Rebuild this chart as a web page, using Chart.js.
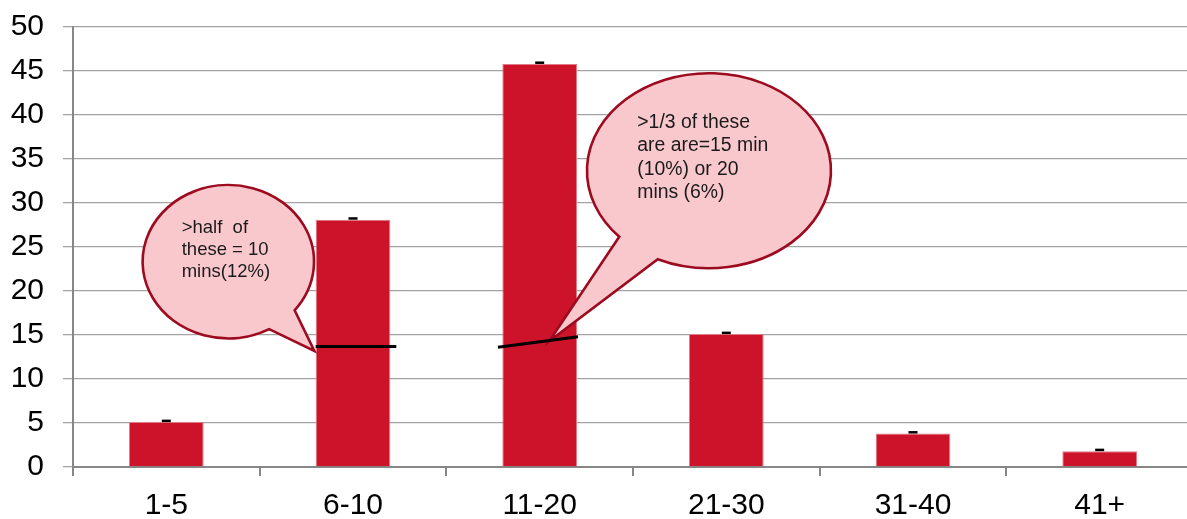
<!DOCTYPE html>
<html>
<head>
<meta charset="utf-8">
<title>Duration distribution</title>
<script src="https://cdn.jsdelivr.net/npm/chart.js@4.4.1/dist/chart.umd.min.js"></script>
<style>
  html, body { margin: 0; padding: 0; overflow: hidden; background: #ffffff; }
  canvas { display: block; }
</style>
</head>
<body>
<canvas id="chart" width="1195" height="519"></canvas>
<script>
// Duration bands (minutes) and share of responses in each band (%)
const categories = ['1-5', '6-10', '11-20', '21-30', '31-40', '41+'];
const percentages = [5.1, 28.1, 45.8, 15.1, 3.8, 1.8];

// Value axis
const yMin = 0;
const yMax = 50;
const yStep = 5;

// Split markers inside bars: where the single most common value ends
const splitCategory = ['6-10', '11-20'];
const splitFrom = [13.7, 13.6];
const splitTo = [13.7, 14.8];

// Callout texts
const calloutTen = ['>half  of', 'these = 10', 'mins(12%)'];
const calloutFifteenTwenty = ['>1/3 of these', 'are are=15 min', '(10%) or 20', 'mins (6%)'];

const FONT = "'Liberation Sans', Arial, sans-serif";

function drawCallout(ctx, xs, ys, c) {
  const cx = xs.getPixelForValue(c.at[0]);
  const cy = ys.getPixelForValue(c.at[1]);
  const tx = xs.getPixelForValue(c.tip[0]);
  const ty = ys.getPixelForValue(c.tip[1]);
  let a1 = Math.atan2(c.base[0][1] / c.ry, c.base[0][0] / c.rx);
  let a2 = Math.atan2(c.base[1][1] / c.ry, c.base[1][0] / c.rx);
  if (a1 > a2) { const t = a1; a1 = a2; a2 = t; }
  ctx.save();
  ctx.beginPath();
  if (a2 - a1 < Math.PI) {
    ctx.ellipse(cx, cy, c.rx, c.ry, 0, a2, a1 + 2 * Math.PI);
  } else {
    ctx.ellipse(cx, cy, c.rx, c.ry, 0, a1, a2);
  }
  ctx.lineTo(tx, ty);
  ctx.closePath();
  ctx.fillStyle = '#f9c8cc';
  ctx.fill();
  ctx.lineWidth = 2.6;
  ctx.lineJoin = 'miter';
  ctx.strokeStyle = '#9c0b1f';
  ctx.stroke();

  ctx.fillStyle = '#1a1a1a';
  ctx.font = c.fontSize + 'px ' + FONT;
  ctx.textAlign = 'left';
  ctx.textBaseline = 'alphabetic';
  c.lines.forEach((line, i) => {
    ctx.fillText(line, cx + c.text[0], cy + c.text[1] + i * c.lineHeight);
  });
  ctx.restore();
}

const overlayPlugin = {
  id: 'overlay',
  afterDatasetsDraw(chart, args, opts) {
    const ctx = chart.ctx;
    const xs = chart.scales.x;
    const ys = chart.scales.y;
    const bars = chart.getDatasetMeta(0).data;

    opts.callouts.forEach(c => drawCallout(ctx, xs, ys, c));

    ctx.save();
    ctx.strokeStyle = '#000000';
    ctx.lineWidth = 3;
    ctx.lineCap = 'butt';
    splitCategory.forEach((cat, i) => {
      const el = bars[categories.indexOf(cat)];
      const left = el.x - el.width / 2;
      const ext = opts.splitExtent[i];
      ctx.beginPath();
      ctx.moveTo(left + ext[0] * el.width, ys.getPixelForValue(splitFrom[i]));
      ctx.lineTo(left + ext[1] * el.width, ys.getPixelForValue(splitTo[i]));
      ctx.stroke();
    });

    // small caps on top of each bar
    ctx.fillStyle = '#000000';
    bars.forEach(el => {
      ctx.fillRect(el.x - 4.5, el.y - 2.5, 9, 2.5);
    });
    ctx.restore();
  }
};

new Chart(document.getElementById('chart'), {
  type: 'bar',
  data: {
    labels: categories,
    datasets: [{
      data: percentages,
      backgroundColor: '#cd1329',
      borderColor: '#e27a86',
      borderWidth: 1,
      borderSkipped: 'bottom',
      barPercentage: 0.4,
      categoryPercentage: 1.0
    }]
  },
  options: {
    responsive: false,
    devicePixelRatio: 1,
    animation: false,
    layout: { padding: { top: 27, left: 0, right: 2, bottom: 0 } },
    plugins: {
      legend: { display: false },
      tooltip: { enabled: false },
      overlay: {
        splitExtent: [[0, 1.08], [-0.059, 1.013]],
        callouts: [
          {
            lines: calloutTen, at: [0.332, 23.33], rx: 85.7, ry: 76.7,
            base: [[65, 47.6], [41, 67.6]], tip: [0.793, 13.18],
            text: [-46.6, -28.4], lineHeight: 21.8, fontSize: 18.5
          },
          {
            lines: calloutFifteenTwenty, at: [2.907, 33.67], rx: 122, ry: 97.5,
            base: [[-87.3, 64.3], [-50.7, 87.6]], tip: [2.052, 14.32],
            text: [-71.7, -43], lineHeight: 23.5, fontSize: 19.4
          }
        ]
      }
    },
    scales: {
      x: {
        offset: true,
        grid: {
          offset: true,
          drawOnChartArea: false,
          drawTicks: true,
          tickLength: 9,
          color: '#878787',
          lineWidth: 2
        },
        border: { display: true, color: '#878787', width: 2 },
        ticks: {
          color: '#000000',
          font: { family: FONT, size: 30 },
          padding: 12,
          maxRotation: 0
        },
        afterFit(scale) {
          scale.height = 52;
          scale.paddingLeft = 0;
          scale.paddingRight = 0;
        }
      },
      y: {
        min: yMin,
        max: yMax,
        grid: {
          color: '#a3a3a3',
          lineWidth: 1.3,
          tickLength: 10,
          drawTicks: true
        },
        border: { display: true, color: '#878787', width: 2 },
        ticks: {
          stepSize: yStep,
          color: '#000000',
          font: { family: FONT, size: 30 },
          padding: 19
        },
        afterFit(scale) {
          scale.width = 73;
          scale.paddingTop = 0;
          scale.paddingBottom = 0;
        }
      }
    }
  },
  plugins: [overlayPlugin]
});
</script>
</body>
</html>
